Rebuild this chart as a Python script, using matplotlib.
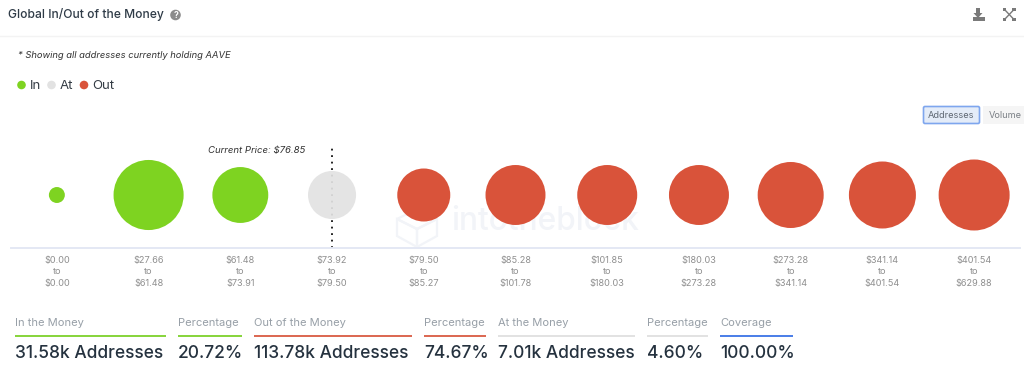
import matplotlib
matplotlib.use("Agg")
import matplotlib.pyplot as plt
from matplotlib.patches import Circle, FancyBboxPatch, Polygon, Rectangle

plt.rcParams['font.family'] = ['Inter', 'DejaVu Sans']

W, H, DPI = 1024, 366, 100

# ---- data -------------------------------------------------------------
range_low = ["$0.00", "$27.66", "$61.48", "$73.92", "$79.50", "$85.28",
             "$101.85", "$180.03", "$273.28", "$341.14", "$401.54"]
range_high = ["$0.00", "$61.48", "$73.91", "$79.50", "$85.27", "$101.78",
              "$180.03", "$273.28", "$341.14", "$401.54", "$629.88"]
addresses_k = [0.97, 18.7, 11.9, 8.8, 10.7, 13.7, 13.7, 13.7, 16.6, 17.1, 19.2]
status = ["In", "In", "In", "At", "Out", "Out", "Out", "Out", "Out", "Out", "Out"]
current_price_label = "Current Price: $76.85"
current_bin = 3
summary_labels = ["In the Money", "Percentage", "Out of the Money", "Percentage",
                  "At the Money", "Percentage", "Coverage"]
summary_values = ["31.58k Addresses", "20.72%", "113.78k Addresses", "74.67%",
                  "7.01k Addresses", "4.60%", "100.00%"]
summary_kinds = ["In", "In", "Out", "Out", "At", "At", "Cov"]
summary_x0 = [15, 178, 254, 424, 498, 647, 720]
summary_x1 = [166, 242, 412, 486, 635, 708, 793]

COL = {"In": "#7ed321", "At": "#e2e2e2", "Out": "#d9533a", "Cov": "#4a7de8"}
LINE = {"In": "#86d43a", "At": "#e2e2e2", "Out": "#dc6650", "Cov": "#4a7de8"}
TXT = "#25323f"
GREY = "#8f8f8f"

fig = plt.figure(figsize=(W / DPI, H / DPI), dpi=DPI, facecolor="white")

# overlay in pixel coordinates for page furniture
bg = fig.add_axes([0, 0, 1, 1])
bg.set_xlim(0, W)
bg.set_ylim(H, 0)
bg.axis("off")

# watermark
wm = "#f2f4f8"
bg.text(451, 222, "intotheblock", fontsize=22.8, color=wm, va="center", ha="left", fontweight="medium")
for pts in ([(397, 219), (417, 209), (437, 219), (417, 229)],
            [(397, 219), (397, 236), (417, 247), (417, 229)],
            [(437, 219), (437, 236), (417, 247), (417, 229)]):
    bg.add_patch(Polygon(pts, closed=True, fill=False, edgecolor=wm, lw=1.6))

# main chart
left, right, top, bottom = 11, 1020, 135, 248
ax = fig.add_axes([left / W, 1 - bottom / H, (right - left) / W, (bottom - top) / H])
ax.patch.set_alpha(0)
ax.set_xlim(-0.5, len(addresses_k) - 0.5)
ax.set_ylim(0, 113)
xs = list(range(len(addresses_k)))
SCALE = 262.6 * (72 / DPI) ** 2   # points^2 per thousand addresses
ax.scatter(xs, [53] * len(xs), s=[v * SCALE for v in addresses_k],
           c=[COL[s] for s in status], linewidths=0, zorder=3,
           alpha=[0.92 if s == "At" else 1 for s in status])
ax.plot([current_bin, current_bin], [0, 104], color="#111111", lw=1.3,
        linestyle=(0, (1, 2.6)), zorder=2)
ax.text(current_bin - 0.29, 99, current_price_label, ha="right", va="center",
        fontsize=6.9, style="italic", color="#333333")
ax.texts[-1].set_y(97.5)
ax.set_xticks(xs)
ax.set_xticklabels([f"{a}\nto\n{b}" for a, b in zip(range_low, range_high)],
                   fontsize=6.6, color=GREY, linespacing=1.3)
ax.set_yticks([])
ax.tick_params(axis="x", length=0, pad=6)
for k, sp in ax.spines.items():
    sp.set_visible(k == "bottom")
ax.spines["bottom"].set_color("#e4e8f4")
ax.spines["bottom"].set_linewidth(1.4)

# header
bg.text(8, 14.5, "Global In/Out of the Money", fontsize=8.7, color="#2f3b47",
        va="center", fontweight="medium")
bg.plot([0, W], [36, 36], color="#f3f3f3", lw=1)
bg.add_patch(Circle((175.5, 15), 5.3, color="#8c8c8c", lw=0))
bg.text(175.5, 15.2, "?", color="white", fontsize=6.2, fontweight="bold", ha="center", va="center")

# download icon
ic = "#7a7a7a"
bg.add_patch(Rectangle((975.8, 8), 4.2, 6, color=ic, lw=0))
bg.add_patch(Polygon([(973.5, 13), (982.5, 13), (978, 18)], color=ic, lw=0))
bg.add_patch(Rectangle((972.5, 17), 12, 3.5, color=ic, lw=0))
# expand icon
for (x0, y0), (x1, y1) in (((1004.5, 9.5), (1014, 19.5)), ((1014, 9.5), (1004.5, 19.5))):
    bg.plot([x0, x1], [y0, y1], color=ic, lw=1.0)
for (x, y) in ((1004.5, 9.5), (1014, 9.5), (1004.5, 19.5), (1014, 19.5)):
    bg.add_patch(Rectangle((x - 1.8, y - 1.8), 3.6, 3.6, color=ic, lw=0))

# note and legend
bg.text(18, 55, "* Showing all addresses currently holding AAVE", fontsize=6.75,
        style="italic", color="#333333", va="center")
for cx, tx, name in ((21.5, 29.5, "In"), (51.5, 59.5, "At"), (84, 92, "Out")):
    bg.add_patch(Circle((cx, 85), 4.3, color=COL[name], lw=0))
    bg.text(tx, 85.8, name, fontsize=9.5, color="#333b44", va="center")

# toggle buttons
bg.add_patch(FancyBboxPatch((923.5, 106.5), 56, 17, boxstyle="round,pad=0,rounding_size=1.5",
                            facecolor="#e4ecf8", edgecolor="#7ea6ee", lw=1.2))
bg.text(951.5, 115.3, "Addresses", fontsize=6.6, color="#5f6873", ha="center", va="center")
bg.add_patch(Rectangle((983, 106), 41, 18, facecolor="#f5f5f5", lw=0))
bg.text(1005, 115.3, "Volume", fontsize=6.6, color="#7a7f85", ha="center", va="center")

# summary strip
for lab, val, kind, x0, x1 in zip(summary_labels, summary_values, summary_kinds,
                                  summary_x0, summary_x1):
    bg.text(x0, 322.5, lab, fontsize=8, color="#979fa7", va="center")
    bg.plot([x0, x1], [335.5, 335.5], color=LINE[kind], lw=1.4, solid_capstyle="butt")
    bg.text(x0, 354, val, fontsize=12.5, color=TXT, va="center", fontweight="medium")

fig.savefig("out.png", dpi=DPI, facecolor="white")
